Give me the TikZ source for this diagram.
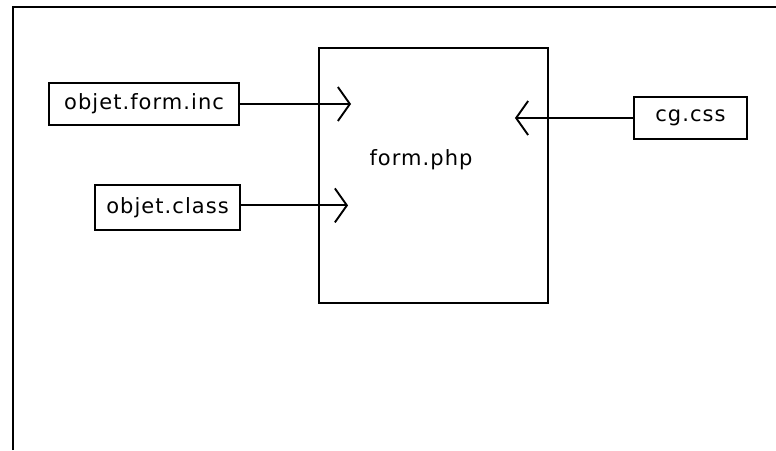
\documentclass[tikz,border=0pt]{standalone}
\usepackage{fontspec}
\setmainfont[LetterSpace=5]{DejaVu Sans}
\usetikzlibrary{positioning,arrows.meta}

\begin{document}
\begin{tikzpicture}[x=1pt, y=-1pt,
      nodes={font=\fontsize{21}{25}\selectfont, inner sep=0pt},
      box/.style={draw, line width=1.9pt, minimum height=42pt},
      link/.style={line width=1.9pt,
          -{Straight Barb[length=12pt, width=34pt, line width=1.9pt]}}]

      \useasboundingbox (0,0) rectangle (776,450);

      % Outer frame, only top and left edge show
      \draw[line width=2pt] (13,450) -- (13,7) -- (776,7);

      % Page box with its name
      \node(page)[box, minimum width=229pt, minimum height=255pt] at (433.5,175.5) {};
      \node(pagelabel) at (421,160) {form.php};

      % Files on the left
      \node(forminc)[box, minimum width=190pt, anchor=east] at (240,104) {objet.form.inc};
      \node(objclass)[box, minimum width=145pt, minimum height=45pt,
          below left=58pt and -1pt of forminc.south east] {objet.class};

      % Stylesheet on the right
      \node(stylesheet)[box, minimum width=113pt, anchor=west] at (633,118) {cg.css};

      % Arrows into the page
      \draw[link] (forminc.east) -- ([xshift=33pt]page.west |- forminc.east);
      \draw[link] ([yshift=2pt]objclass.east) -- ([xshift=30pt,yshift=2pt]page.west |- objclass.east);
      \draw[link] (stylesheet.west) -- ([xshift=-34pt]page.east |- stylesheet.west);

\end{tikzpicture}
\end{document}
